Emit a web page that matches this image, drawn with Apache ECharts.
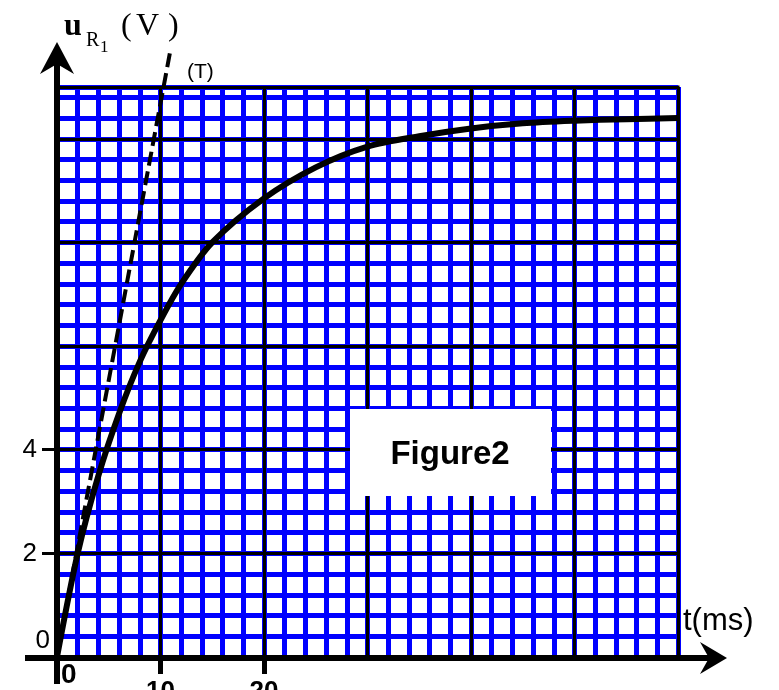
<!DOCTYPE html>
<html>
<head>
<meta charset="utf-8">
<script src="https://cdn.jsdelivr.net/npm/echarts@6/dist/echarts.min.js"></script>
<style>
  html, body { margin: 0; padding: 0; background: #fff; }
  #main { width: 779px; height: 690px; }
</style>
</head>
<body>
<div id="main"></div>
<script>
// u_R1(t)
const timeMs = [0, 2, 4, 6, 8, 10, 12, 15, 20, 25, 30, 35, 40, 45, 50, 55, 60]
const voltage = [0, 2.0, 3.5, 4.7, 5.7, 6.5, 7.2, 8.0, 8.85, 9.45, 9.85, 10.05, 10.2, 10.3, 10.35, 10.38, 10.4]
// tangente (T) a l'origine
const tangentTime = [0, 10.95]
const tangentVoltage = [0, 11.7]
// graduations
const xTickValues = [10, 20]
const yTickValues = [2, 4]

const FONT = 'Liberation Sans'
const SERIF = 'Liberation Serif'

const myChart = echarts.init(document.querySelector('#main'))

// axe "vide" : seulement le quadrillage
function gridAxis(max, interval, color, width, position, z) {
  return {
    type: 'value', min: 0, max: max, interval: interval, position: position, z: z,
    axisLine: { show: false }, axisTick: { show: false }, axisLabel: { show: false },
    splitLine: { show: true, lineStyle: { color: color, width: width } }
  }
}

function txt(x, y, text, font, align, vAlign) {
  return {
    type: 'text', z: 20,
    style: { x: x, y: y, text: text, font: font, fill: '#000', textAlign: align || 'left', textVerticalAlign: vAlign || 'middle' }
  }
}

const option = {
  animation: false,
  grid: {
    left: 57, right: 101, top: 87, bottom: 33,
    containLabel: false, outerBoundsMode: 'none',
    show: true, backgroundColor: '#fff', borderColor: '#000', borderWidth: 3
  },
  xAxis: [
    // petits carreaux bleus
    gridAxis(60, 2, '#0000ff', 5, 'top', 1),
    // grands carreaux noirs
    gridAxis(60, 10, '#000', 3, 'top', 2),
    {
      // graduations 10 et 20
      type: 'value', min: 0, max: 60, interval: 10, position: 'bottom', z: 3,
      axisLine: { show: false },
      axisTick: { show: true, customValues: xTickValues, length: 17, lineStyle: { color: '#000', width: 5 } },
      axisLabel: { customValues: xTickValues, margin: 22, fontSize: 26, fontWeight: 'bold', color: '#000', fontFamily: FONT },
      splitLine: { show: false }
    }
  ],
  yAxis: [
    gridAxis(11, 0.4, '#0000ff', 5, 'right', 1),
    gridAxis(11, 2, '#000', 3, 'right', 2),
    {
      type: 'value', min: 0, max: 11, interval: 2, position: 'left', z: 3,
      axisLine: { show: false },
      axisTick: { show: true, customValues: yTickValues, length: 15, lineStyle: { color: '#000', width: 3 } },
      axisLabel: { customValues: yTickValues, margin: 20, fontSize: 26, color: '#000', fontFamily: FONT },
      splitLine: { show: false }
    }
  ],
  series: [
    {
      type: 'line', xAxisIndex: 1, yAxisIndex: 1, z: 10,
      data: timeMs.map((t, i) => [t, voltage[i]]),
      smooth: 0.3, symbol: 'none',
      lineStyle: { color: '#000', width: 6 }
    },
    {
      type: 'line', xAxisIndex: 1, yAxisIndex: 1, z: 10, clip: false,
      data: tangentTime.map((t, i) => [t, tangentVoltage[i]]),
      symbol: 'none',
      lineStyle: { color: '#000', width: 4, type: [14, 6] }
    }
  ],
  graphic: [
    // cadre Figure2
    { type: 'rect', z: 5, shape: { x: 350, y: 409, width: 201, height: 87 }, style: { fill: '#fff' } },
    { type: 'text', z: 6, style: { x: 450, y: 455, text: 'Figure2', font: 'bold 33px ' + FONT, fill: '#000', textAlign: 'center', textVerticalAlign: 'middle' } },
    // axes
    { type: 'line', z: 20, shape: { x1: 57, y1: 684, x2: 57, y2: 60 }, style: { stroke: '#000', lineWidth: 6 } },
    { type: 'polygon', z: 20, shape: { points: [[57, 42], [74, 74], [57, 64], [40, 74]] }, style: { fill: '#000' } },
    { type: 'line', z: 20, shape: { x1: 25, y1: 658, x2: 712, y2: 658 }, style: { stroke: '#000', lineWidth: 6 } },
    { type: 'polygon', z: 20, shape: { points: [[727, 658], [700, 642], [709, 658], [700, 674]] }, style: { fill: '#000' } },
    // textes
    txt(50, 641, '0', '26px ' + FONT, 'right'),
    txt(61, 661, '0', 'bold 28px ' + FONT, 'left', 'top'),
    txt(64, 27, 'u', 'bold 32px ' + SERIF),
    txt(86, 41, 'R', '20px ' + SERIF),
    txt(100, 48, '1', '17px ' + SERIF),
    txt(121, 27, '(', '32px ' + SERIF),
    txt(136, 27, 'V', '32px ' + SERIF),
    txt(168, 27, ')', '32px ' + SERIF),
    txt(187, 72, '(T)', '21px ' + FONT),
    txt(683, 621, 't(ms)', '31px ' + FONT)
  ]
}

myChart.setOption(option)
</script>
</body>
</html>
